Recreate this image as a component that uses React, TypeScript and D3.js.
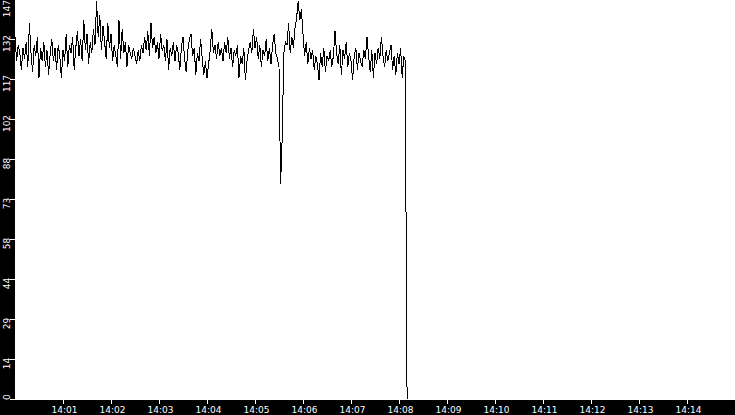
import { useEffect, useRef } from 'react';
import { select, scaleLinear, scaleTime, line, timeMinute, timeFormat } from 'd3';

// sampled readings, one every 2 seconds from 14:00:00
const readings: number[] = [
  133, 124, 130, 127, 121, 129, 125, 131, 122, 138,
  127, 120, 130, 126, 133, 118, 129, 124, 131, 122,
  128, 119, 127, 132, 124, 129, 121, 130, 126, 118,
  128, 124, 134, 122, 130, 127, 133, 121, 129, 135,
  126, 132, 124, 139, 128, 134, 123, 131, 127, 136,
  130, 146, 133, 141, 128, 137, 131, 125, 138, 129,
  134, 124, 130, 126, 122, 139, 125, 136, 127, 131,
  122, 130, 127, 125, 129, 126, 123, 128, 124, 130,
  127, 133, 128, 135, 126, 138, 129, 133, 127, 131,
  125, 134, 128, 130, 124, 132, 121, 129, 126, 131,
  124, 130, 127, 121, 129, 133, 125, 120, 128, 132,
  134, 126, 129, 119, 127, 124, 132, 125, 119, 124,
  118, 123, 128, 136, 127, 130, 125, 131, 126, 129,
  124, 131, 127, 133, 125, 129, 122, 128, 126, 130,
  118, 126, 123, 129, 117, 124, 128, 131, 127, 136,
  129, 133, 125, 130, 122, 128, 126, 132, 124, 129,
  123, 130, 134, 127, 125, 122, 79, 96, 127, 131,
  130, 138, 127, 133, 129, 136, 140, 146, 139, 143,
  134, 126, 131, 123, 129, 125, 128, 121, 126, 123,
  117, 127, 122, 129, 120, 126, 124, 128, 122, 126,
  135, 127, 123, 130, 119, 128, 125, 131, 122, 127,
  124, 117, 126, 129, 121, 127, 124, 122, 128, 125,
  133, 126, 120, 128, 118, 127, 123, 129, 125, 133,
  126, 122, 128, 124, 127, 130, 121, 126, 119, 127,
  123, 129, 118, 126, 124,
];
const sampleStep = 2; // seconds

// the feed stops: last two readings, seconds after 14:00:00
const tailSeconds = [488.9, 490.1];
const tailValues = [59, 0];

const yMax = 146.67;
const yTickLabels = ['0', '14', '29', '44', '58', '73', '88', '102', '117', '132', '147'];

const width = 735;
const height = 415;
const left = 15;
const plotBottom = 400;
const font = '"DejaVu Sans", sans-serif';

const start = new Date(2020, 0, 1, 14, 0, 0);
const end = new Date(2020, 0, 1, 14, 15, 0);
const at = (s: number) => new Date(start.getTime() + s * 1000);

export default function App() {
  const svgRef = useRef<SVGSVGElement>(null);

  useEffect(() => {
    if (!svgRef.current) return;
    const svg = select(svgRef.current);
    svg.selectAll('*').remove();

    const x = scaleTime().domain([start, end]).range([left, width]);
    const y = scaleLinear().domain([0, yMax]).range([plotBottom - 0.5, -0.5]);

    const points: Array<[Date, number]> = readings.map((v, i) => [at(i * sampleStep), v]);
    tailSeconds.forEach((s, i) => points.push([at(s), tailValues[i]]));

    svg.append('rect').attr('width', width).attr('height', height).attr('fill', '#fff');

    svg
      .append('path')
      .datum(points)
      .attr('fill', 'none')
      .attr('stroke', '#000')
      .attr('stroke-width', 1)
      .attr('shape-rendering', 'crispEdges')
      .attr(
        'd',
        line<[Date, number]>()
          .x((d) => x(d[0]))
          .y((d) => y(d[1])),
      );

    // black axis bands
    svg.append('rect').attr('x', 0).attr('y', 0).attr('width', left).attr('height', height).attr('fill', '#000');
    svg
      .append('rect')
      .attr('x', 0)
      .attr('y', plotBottom)
      .attr('width', width)
      .attr('height', height - plotBottom)
      .attr('fill', '#000');

    // y axis
    const yAxis = svg.append('g');
    yTickLabels.forEach((label, i) => {
      const ty = y((i * yMax) / 10);
      yAxis
        .append('line')
        .attr('x1', 10)
        .attr('x2', left)
        .attr('y1', ty)
        .attr('y2', ty)
        .attr('stroke', '#fff')
        .attr('shape-rendering', 'crispEdges');
      const half = label.length * 2.9;
      const cy = Math.min(Math.max(ty + 4, half), plotBottom - half);
      yAxis
        .append('text')
        .attr('transform', `translate(10,${cy}) rotate(-90)`)
        .attr('text-anchor', 'middle')
        .attr('fill', '#fff')
        .style('font-family', font)
        .style('font-size', '9px')
        .text(label);
    });

    // x axis
    const xAxis = svg.append('g');
    const fmt = timeFormat('%H:%M');
    x.ticks(timeMinute.every(1)!)
      .filter((d) => d > start && d < end)
      .forEach((d) => {
        const tx = Math.round(x(d)) + 0.5;
        xAxis
          .append('line')
          .attr('x1', tx)
          .attr('x2', tx)
          .attr('y1', plotBottom)
          .attr('y2', plotBottom + 4)
          .attr('stroke', '#fff')
          .attr('shape-rendering', 'crispEdges');
        xAxis
          .append('text')
          .attr('x', tx + 1)
          .attr('y', 413)
          .attr('text-anchor', 'middle')
          .attr('fill', '#fff')
          .style('font-family', font)
          .style('font-size', '9px')
          .text(fmt(d));
      });
  }, []);

  return (
    <div>
      <style>{`body{margin:0}`}</style>
      <svg ref={svgRef} width={width} height={height} style={{ display: 'block' }} />
    </div>
  );
}
